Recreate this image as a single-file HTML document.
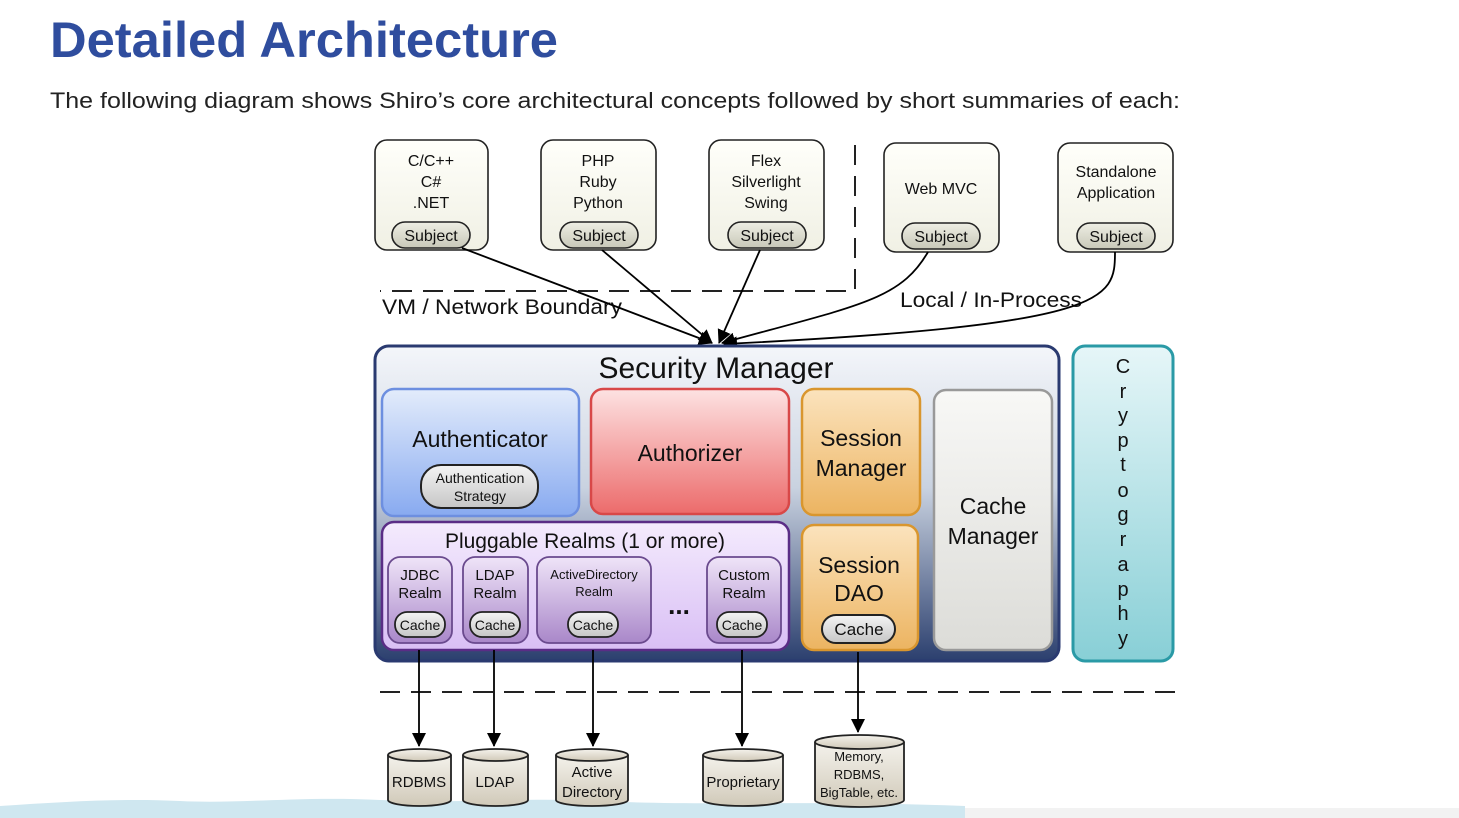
<!DOCTYPE html>
<html><head><meta charset="utf-8"><style>
html,body{margin:0;padding:0;background:#fff;width:1459px;height:818px;overflow:hidden}
svg{display:block}
text{font-family:"Liberation Sans",Arial,sans-serif}
</style></head><body>
<svg width="1459" height="818" viewBox="0 0 1459 818" xmlns="http://www.w3.org/2000/svg">
<defs>
<marker id="ah2" markerWidth="14" markerHeight="14" refX="13" refY="7" orient="auto" markerUnits="userSpaceOnUse"><path d="M0,0 L14,7 L0,14 z" fill="#000"/></marker>
<linearGradient id="sm" x1="0" y1="0" x2="0" y2="1"><stop offset="0" stop-color="#f4f6fa"/><stop offset="0.45" stop-color="#c9d2e0"/><stop offset="1" stop-color="#2b3f6e"/></linearGradient>
<linearGradient id="au" x1="0" y1="0" x2="0" y2="1"><stop offset="0" stop-color="#e3ecfb"/><stop offset="1" stop-color="#88aaf0"/></linearGradient>
<linearGradient id="az" x1="0" y1="0" x2="0" y2="1"><stop offset="0" stop-color="#fde2e2"/><stop offset="1" stop-color="#ec6b6b"/></linearGradient>
<linearGradient id="se" x1="0" y1="0" x2="0" y2="1"><stop offset="0" stop-color="#fbe3bd"/><stop offset="1" stop-color="#ecb461"/></linearGradient>
<linearGradient id="cm" x1="0" y1="0" x2="0" y2="1"><stop offset="0" stop-color="#f8f8f6"/><stop offset="1" stop-color="#dcdcd8"/></linearGradient>
<linearGradient id="pr" x1="0" y1="0" x2="0" y2="1"><stop offset="0" stop-color="#f4ebfd"/><stop offset="1" stop-color="#d9bff5"/></linearGradient>
<linearGradient id="rl" x1="0" y1="0" x2="0" y2="1"><stop offset="0" stop-color="#efe4f8"/><stop offset="1" stop-color="#a987c9"/></linearGradient>
<linearGradient id="cr" x1="0" y1="0" x2="0" y2="1"><stop offset="0" stop-color="#e6f6f8"/><stop offset="1" stop-color="#88cfd6"/></linearGradient>
<linearGradient id="pill" x1="0" y1="0" x2="0" y2="1"><stop offset="0" stop-color="#f4f4f4"/><stop offset="1" stop-color="#c6c6c6"/></linearGradient>
<linearGradient id="subj" x1="0" y1="0" x2="0" y2="1"><stop offset="0" stop-color="#eeeee4"/><stop offset="1" stop-color="#c8c8b8"/></linearGradient>
<linearGradient id="cyl" x1="0" y1="0" x2="0" y2="1"><stop offset="0" stop-color="#f4f2ec"/><stop offset="1" stop-color="#d0c9b8"/></linearGradient>
<linearGradient id="box" x1="0" y1="0" x2="0" y2="1"><stop offset="0" stop-color="#fffffa"/><stop offset="1" stop-color="#f0f0e4"/></linearGradient>
</defs>

<text x="50" y="57" font-size="50" font-weight="bold" fill="#2f4d9e" textLength="508" lengthAdjust="spacingAndGlyphs">Detailed Architecture</text>
<text x="50" y="108" font-size="22" fill="#222" textLength="1130" lengthAdjust="spacingAndGlyphs">The following diagram shows Shiro’s core architectural concepts followed by short summaries of each:</text>

<g stroke="#222" stroke-width="1.6" fill="url(#box)">
<rect x="375" y="140" width="113" height="110" rx="12"/>
<rect x="541" y="140" width="115" height="110" rx="12"/>
<rect x="709" y="140" width="115" height="110" rx="12"/>
<rect x="884" y="143" width="115" height="109" rx="12"/>
<rect x="1058" y="143" width="115" height="109" rx="12"/>
</g>
<g stroke="#222" stroke-width="1.6" fill="url(#subj)">
<rect x="392" y="222" width="78" height="26" rx="13"/>
<rect x="560" y="222" width="78" height="26" rx="13"/>
<rect x="728" y="222" width="78" height="26" rx="13"/>
<rect x="902" y="223" width="78" height="26" rx="13"/>
<rect x="1077" y="223" width="78" height="26" rx="13"/>
</g>
<g font-size="16" fill="#111" text-anchor="middle">
<text x="431" y="166">C/C++</text><text x="431" y="187">C#</text><text x="431" y="208">.NET</text>
<text x="598" y="166">PHP</text><text x="598" y="187">Ruby</text><text x="598" y="208">Python</text>
<text x="766" y="166">Flex</text><text x="766" y="187">Silverlight</text><text x="766" y="208">Swing</text>
<text x="941" y="194">Web MVC</text>
<text x="1116" y="177">Standalone</text><text x="1116" y="198">Application</text>
<text x="431" y="241">Subject</text><text x="599" y="241">Subject</text><text x="767" y="241">Subject</text><text x="941" y="242">Subject</text><text x="1116" y="242">Subject</text>
</g>

<g stroke="#222" stroke-width="2" stroke-dasharray="20,11" fill="none">
<path d="M855,145 V291 H380"/>
<path d="M380,692 H1180"/>
</g>
<text x="382" y="314" font-size="21" fill="#111" textLength="240" lengthAdjust="spacingAndGlyphs">VM / Network Boundary</text>
<text x="900" y="307" font-size="21" fill="#111" textLength="182" lengthAdjust="spacingAndGlyphs">Local / In-Process</text>

<g stroke="#000" stroke-width="1.8" fill="none" marker-end="url(#ah2)">
<path d="M462,248 L712,343"/>
<path d="M602,250 L712,343"/>
<path d="M760,250 L719,343"/>
<path d="M928,252 C900,300 860,305 722,343"/>
<path d="M1115,252 C1115,300 1110,325 724,344"/>
</g>

<rect x="375" y="346" width="684" height="315" rx="14" fill="url(#sm)" stroke="#2a3a70" stroke-width="3"/>
<text x="716" y="378" font-size="30" fill="#111" text-anchor="middle">Security Manager</text>
<rect x="382" y="389" width="197" height="127" rx="12" fill="url(#au)" stroke="#6d8fe0" stroke-width="2.5"/>
<text x="480" y="447" font-size="23" fill="#111" text-anchor="middle">Authenticator</text>
<rect x="421" y="465" width="117" height="43" rx="20" fill="url(#pill)" stroke="#222" stroke-width="2"/>
<text x="480" y="483" font-size="14" text-anchor="middle" fill="#111">Authentication</text>
<text x="480" y="501" font-size="14" text-anchor="middle" fill="#111">Strategy</text>
<rect x="591" y="389" width="198" height="125" rx="12" fill="url(#az)" stroke="#d84848" stroke-width="2.5"/>
<text x="690" y="461" font-size="23" fill="#111" text-anchor="middle">Authorizer</text>
<rect x="802" y="389" width="118" height="126" rx="12" fill="url(#se)" stroke="#d9962e" stroke-width="2.5"/>
<text x="861" y="446" font-size="23" fill="#111" text-anchor="middle">Session</text>
<text x="861" y="476" font-size="23" fill="#111" text-anchor="middle">Manager</text>
<rect x="934" y="390" width="118" height="260" rx="12" fill="url(#cm)" stroke="#999" stroke-width="2.5"/>
<text x="993" y="514" font-size="23" fill="#111" text-anchor="middle">Cache</text>
<text x="993" y="544" font-size="23" fill="#111" text-anchor="middle">Manager</text>
<rect x="802" y="525" width="116" height="125" rx="12" fill="url(#se)" stroke="#d9962e" stroke-width="2.5"/>
<text x="859" y="573" font-size="23" fill="#111" text-anchor="middle">Session</text>
<text x="859" y="601" font-size="23" fill="#111" text-anchor="middle">DAO</text>
<rect x="822" y="615" width="73" height="28" rx="14" fill="url(#pill)" stroke="#222" stroke-width="2"/>
<text x="859" y="635" font-size="17" text-anchor="middle" fill="#111">Cache</text>

<rect x="382" y="522" width="407" height="128" rx="12" fill="url(#pr)" stroke="#5a2d86" stroke-width="2.5"/>
<text x="585" y="548" font-size="21" fill="#111" text-anchor="middle">Pluggable Realms (1 or more)</text>
<g fill="url(#rl)" stroke="#6a4a8e" stroke-width="1.8">
<rect x="388" y="557" width="64" height="86" rx="12"/>
<rect x="463" y="557" width="65" height="86" rx="12"/>
<rect x="537" y="557" width="114" height="86" rx="12"/>
<rect x="707" y="557" width="74" height="86" rx="12"/>
</g>
<g font-size="15" fill="#111" text-anchor="middle">
<text x="420" y="580">JDBC</text><text x="420" y="598">Realm</text>
<text x="495" y="580">LDAP</text><text x="495" y="598">Realm</text>
<text x="594" y="579" font-size="13">ActiveDirectory</text><text x="594" y="596" font-size="13">Realm</text>
<text x="744" y="580">Custom</text><text x="744" y="598">Realm</text>
</g>
<g fill="url(#pill)" stroke="#222" stroke-width="1.8">
<rect x="395" y="612" width="50" height="25" rx="12"/>
<rect x="470" y="612" width="50" height="25" rx="12"/>
<rect x="568" y="612" width="50" height="25" rx="12"/>
<rect x="717" y="612" width="50" height="25" rx="12"/>
</g>
<g font-size="14" fill="#111" text-anchor="middle">
<text x="420" y="630">Cache</text><text x="495" y="630">Cache</text><text x="593" y="630">Cache</text><text x="742" y="630">Cache</text>
</g>
<text x="679" y="614" font-size="26" font-weight="bold" text-anchor="middle" fill="#111">...</text>

<rect x="1073" y="346" width="100" height="315" rx="12" fill="url(#cr)" stroke="#2a9aa6" stroke-width="3"/>
<g font-size="20" fill="#111" text-anchor="middle">
<text x="1123" y="373">C</text><text x="1123" y="398">r</text><text x="1123" y="422">y</text><text x="1123" y="447">p</text><text x="1123" y="471">t</text><text x="1123" y="497">o</text><text x="1123" y="521">g</text><text x="1123" y="546">r</text><text x="1123" y="571">a</text><text x="1123" y="596">p</text><text x="1123" y="620">h</text><text x="1123" y="645">y</text>
</g>

<g stroke="#000" stroke-width="1.8" marker-end="url(#ah2)">
<line x1="419" y1="650" x2="419" y2="746"/>
<line x1="494" y1="650" x2="494" y2="746"/>
<line x1="593" y1="650" x2="593" y2="746"/>
<line x1="742" y1="650" x2="742" y2="746"/>
<line x1="858" y1="652" x2="858" y2="732"/>
</g>

<rect x="965" y="808" width="494" height="10" fill="#f2f2f2"/>
<path d="M0,806 C60,802 120,798 180,801 C240,804 300,796 380,800 C460,804 520,797 600,801 C700,806 800,800 965,806 L965,818 L0,818 Z" fill="#cfe7f0"/>

<g stroke="#222" stroke-width="1.8" fill="url(#cyl)">
<path d="M388,755 V800 A31.5,6 0 0 0 451,800 V755"/><ellipse cx="419.5" cy="755" rx="31.5" ry="6"/>
<path d="M463,755 V800 A32.5,6 0 0 0 528,800 V755"/><ellipse cx="495.5" cy="755" rx="32.5" ry="6"/>
<path d="M556,755 V800 A36,6 0 0 0 628,800 V755"/><ellipse cx="592" cy="755" rx="36" ry="6"/>
<path d="M703,755 V800 A40,6 0 0 0 783,800 V755"/><ellipse cx="743" cy="755" rx="40" ry="6"/>
<path d="M815,742 V800 A44.5,7 0 0 0 904,800 V742"/><ellipse cx="859.5" cy="742" rx="44.5" ry="7"/>
</g>
<g font-size="15" fill="#111" text-anchor="middle">
<text x="419" y="787">RDBMS</text>
<text x="495" y="787">LDAP</text>
<text x="592" y="777">Active</text><text x="592" y="797">Directory</text>
<text x="743" y="787">Proprietary</text>
<text x="859" y="761" font-size="13">Memory,</text><text x="859" y="779" font-size="13">RDBMS,</text><text x="859" y="797" font-size="13">BigTable, etc.</text>
</g>
</svg>
</body></html>
